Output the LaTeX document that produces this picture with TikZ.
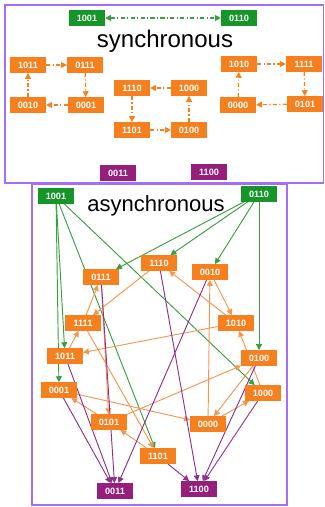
\documentclass[tikz,border=0pt]{standalone}
\usepackage{fontspec}
\setmainfont{Liberation Sans}
\usetikzlibrary{arrows.meta,backgrounds}

\definecolor{boxgreen}{RGB}{22,150,40}
\definecolor{boxorange}{RGB}{246,128,30}
\definecolor{boxpurple}{RGB}{150,30,125}
\definecolor{edgegreen}{RGB}{55,160,65}
\definecolor{edgeorange}{RGB}{245,150,80}
\definecolor{edgepurple}{RGB}{140,50,140}
\definecolor{framecol}{RGB}{165,110,250}

\begin{document}
\begin{tikzpicture}[x=0.03cm,y=-0.03cm,>={Triangle[length=5pt,width=5pt]},
    statebox/.style={rectangle,minimum width=1.07cm,minimum height=0.46cm,inner sep=0pt,
      text=white,font=\fontsize{7.8}{8}\selectfont\bfseries},
    srcbox/.style={statebox,fill=boxgreen},
    midbox/.style={statebox,fill=boxorange},
    sinkbox/.style={statebox,fill=boxpurple},
    syncedge/.style={->,line width=1pt,dash pattern=on 3.5pt off 2pt on 1pt off 2pt},
    asyncedge/.style={->,line width=0.8pt}]
    \useasboundingbox (0,0) rectangle (324,507);

    % frames
    \draw[framecol,line width=0.9pt] (5,5) rectangle (323.5,183);
    \draw[framecol,line width=0.9pt] (32,184) rectangle (287,505);

    % synchronous
    \node[srcbox] (s1001) at (87,18) {1001};
    \node[srcbox] (s0110) at (239,18) {0110};
    \node[font=\fontsize{20.5}{24}\selectfont] (synclabel) at (165,41) {synchronous};

    \node[midbox] (s1011) at (28,65) {1011};
    \node[midbox] (s0111) at (85,65) {0111};
    \node[midbox] (s0001) at (86,105) {0001};
    \node[midbox] (s0010) at (28,105) {0010};

    \node[midbox] (s1110) at (132,88) {1110};
    \node[midbox] (s1000) at (189,88) {1000};
    \node[midbox] (s1101) at (132,130) {1101};
    \node[midbox] (s0100) at (189,130) {0100};

    \node[midbox] (s1010) at (239,64) {1010};
    \node[midbox] (s1111) at (304,64) {1111};
    \node[midbox] (s0101) at (305,104) {0101};
    \node[midbox] (s0000) at (238,105) {0000};

    \node[sinkbox] (s0011) at (118,173) {0011};
    \node[sinkbox] (s1100) at (209,172) {1100};

    \draw[syncedge,<->,edgegreen] (s1001) -- (s0110);
    \draw[syncedge,boxorange] (s1011) -- (s0111);
    \draw[syncedge,boxorange] (s0111) -- (s0001);
    \draw[syncedge,boxorange] (s0001) -- (s0010);
    \draw[syncedge,boxorange] (s0010) -- (s1011);
    \draw[syncedge,boxorange] (s1000) -- (s1110);
    \draw[syncedge,boxorange] (s1110) -- (s1101);
    \draw[syncedge,boxorange] (s1101) -- (s0100);
    \draw[syncedge,boxorange] (s0100) -- (s1000);
    \draw[syncedge,boxorange] (s1010) -- (s1111);
    \draw[syncedge,boxorange] (s1111) -- (s0101);
    \draw[syncedge,boxorange] (s0101) -- (s0000);
    \draw[syncedge,boxorange] (s0000) -- (s1010);

    % asynchronous
    \node[srcbox] (a1001) at (56,196) {1001};
    \node[srcbox] (a0110) at (259,194) {0110};
    \node[font=\fontsize{18.8}{22}\selectfont] (asynclabel) at (156,206) {asynchronous};

    \node[midbox] (a0111) at (101,277) {0111};
    \node[midbox] (a1110) at (159,263) {1110};
    \node[midbox] (a0010) at (210,272) {0010};
    \node[midbox] (a1111) at (83,323) {1111};
    \node[midbox] (a1010) at (236,323) {1010};
    \node[midbox] (a1011) at (65,356) {1011};
    \node[midbox] (a0100) at (259,358) {0100};
    \node[midbox] (a0001) at (59,390) {0001};
    \node[midbox] (a1000) at (263,393) {1000};
    \node[midbox] (a0101) at (109,422) {0101};
    \node[midbox] (a0000) at (208,424) {0000};
    \node[midbox] (a1101) at (158,456) {1101};

    \node[sinkbox] (a0011) at (115,491) {0011};
    \node[sinkbox] (a1100) at (199,489) {1100};

    \begin{pgfonlayer}{background}
    \draw[asyncedge,edgegreen] (a1001) -- (a1011);
    \draw[asyncedge,edgegreen] (a1001) -- (a0001);
    \draw[asyncedge,edgegreen] (a1001) -- (a1101);
    \draw[asyncedge,edgegreen] (a1001) -- (a1000);
    \draw[asyncedge,edgegreen] (a0110) -- (a0111);
    \draw[asyncedge,edgegreen] (a0110) -- (a1110);
    \draw[asyncedge,edgegreen] (a0110) -- (a0010);
    \draw[asyncedge,edgegreen] (a0110) -- (a0100);

    \draw[asyncedge,edgeorange] (a1110) -- (a1111);
    \draw[asyncedge,edgeorange] (a1111) -- (a0111);
    \draw[asyncedge,edgeorange] (a1011) -- (a1111);
    \draw[asyncedge,edgeorange] (a1010) -- (a1011);
    \draw[asyncedge,edgeorange] (a0010) -- (a1010);
    \draw[asyncedge,edgeorange] (a1010) -- (a1110);
    \draw[asyncedge,edgeorange] (a0000) -- (a0010);
    \draw[asyncedge,edgeorange] (a1000) -- (a1010);
    \draw[asyncedge,edgeorange] (a0100) -- (a0000);
    \draw[asyncedge,edgeorange] (a0000) -- (a1000);
    \draw[asyncedge,edgeorange] (a0101) -- (a0100);
    \draw[asyncedge,edgeorange] (a0001) -- (a0000);
    \draw[asyncedge,edgeorange] (a0101) -- (a0001);
    \draw[asyncedge,edgeorange] (a1101) -- (a0101);
    \draw[asyncedge,edgeorange] (a0111) -- (a0101);
    \draw[asyncedge,edgeorange] (a1111) -- (a1101);

    \draw[asyncedge,edgepurple] (a1011) -- (a0011);
    \draw[asyncedge,edgepurple] (a0111) -- (a0011);
    \draw[asyncedge,edgepurple] (a0001) -- (a0011);
    \draw[asyncedge,edgepurple] (a0010) -- (a0011);
    \draw[asyncedge,edgepurple] (a1110) -- (a1100);
    \draw[asyncedge,edgepurple] (a0100) -- (a1100);
    \draw[asyncedge,edgepurple] (a1000) -- (a1100);
    \draw[asyncedge,edgepurple] (a1101) -- (a1100);
    \end{pgfonlayer}
\end{tikzpicture}
\end{document}
